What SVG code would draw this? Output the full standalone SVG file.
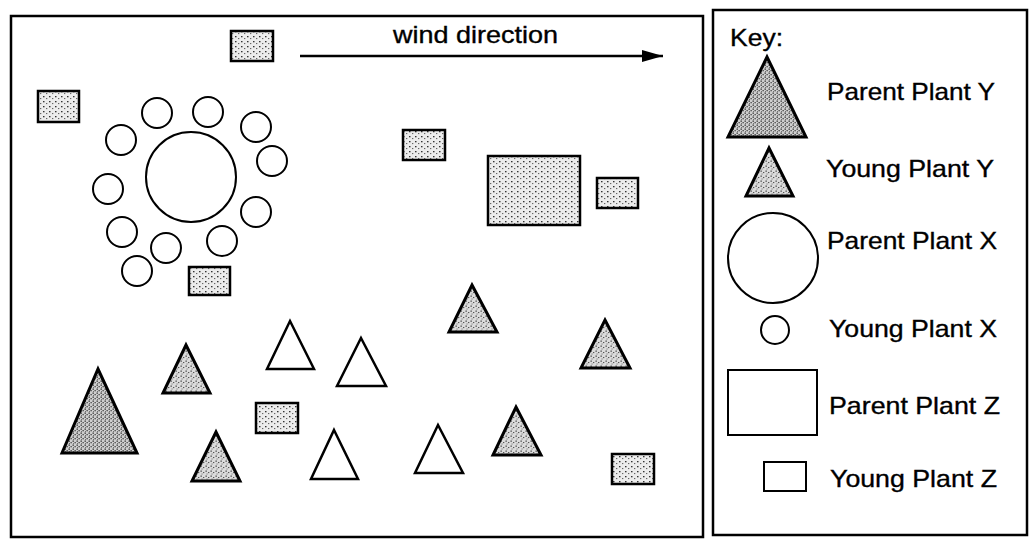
<svg xmlns="http://www.w3.org/2000/svg" width="1032" height="544" viewBox="0 0 1032 544">
<defs>
<pattern id="dots" width="6" height="5" patternUnits="userSpaceOnUse">
<rect width="6" height="5" fill="#ececec"/>
<rect x="1" y="1" width="1.5" height="1.3" fill="#333"/>
<rect x="4" y="3" width="1.3" height="1.1" fill="#666"/>
</pattern>
<pattern id="speck" width="5" height="5" patternUnits="userSpaceOnUse">
<rect width="5" height="5" fill="#dcdcdc"/>
<rect x="0.5" y="0.5" width="1.3" height="1.3" fill="#444"/>
<rect x="3" y="2" width="1.3" height="1.1" fill="#555"/>
<rect x="1.5" y="3.5" width="1.1" height="1" fill="#777"/>
</pattern>
<pattern id="speckd" width="4" height="4" patternUnits="userSpaceOnUse">
<rect width="4" height="4" fill="#cfcfcf"/>
<rect x="0.5" y="0.5" width="1.4" height="1.3" fill="#333"/>
<rect x="2.5" y="2" width="1.3" height="1.3" fill="#444"/>
<rect x="1" y="3" width="1" height="0.9" fill="#666"/>
</pattern>
<marker id="arrow" markerWidth="22" markerHeight="14" refX="21" refY="7" orient="auto" markerUnits="userSpaceOnUse">
<path d="M0,1 L21,7 L0,13 Z" fill="#000"/>
</marker>
</defs>
<style>
.frame{fill:none;stroke:#000;stroke-width:2.5}
.yz{fill:url(#dots);stroke:#000;stroke-width:2.5}
.pz{fill:url(#dots);stroke:#000;stroke-width:2.5}
.yy{fill:url(#speck);stroke:#000;stroke-width:3;stroke-linejoin:miter}
.py{fill:url(#speckd);stroke:#000;stroke-width:3;stroke-linejoin:miter}
.open{fill:#fff;stroke:#000;stroke-width:2.5;stroke-linejoin:miter}
.circ{fill:#fff;stroke:#000;stroke-width:2}
.kbox{fill:#fff;stroke:#000;stroke-width:2}
.lbl{font-family:"Liberation Sans",Arial,sans-serif;font-size:24px;fill:#000;stroke:#000;stroke-width:0.35}
</style>
<rect width="1032" height="544" fill="#fff"/>
<g id="field-frame"><rect class="frame" x="11" y="16" width="692" height="521"/></g>
<g id="key-frame"><rect class="frame" x="713" y="10" width="314" height="525"/></g>

<g id="connectors">
<line x1="300" y1="56" x2="663" y2="56" stroke="#000" stroke-width="2.5" marker-end="url(#arrow)"/>
</g>
<g id="wind-label"><text class="lbl" x="393" y="43" textLength="165" lengthAdjust="spacingAndGlyphs">wind direction</text></g>

<g id="parent-x"><circle class="circ" cx="191" cy="177" r="45"/></g>
<g id="young-x">
<circle class="circ" cx="157" cy="113" r="15"/>
<circle class="circ" cx="208" cy="112" r="15"/>
<circle class="circ" cx="256" cy="127" r="15"/>
<circle class="circ" cx="272" cy="161" r="15"/>
<circle class="circ" cx="256" cy="212" r="15"/>
<circle class="circ" cx="222" cy="241" r="15"/>
<circle class="circ" cx="166" cy="248" r="15"/>
<circle class="circ" cx="137" cy="271" r="15"/>
<circle class="circ" cx="122" cy="232" r="15"/>
<circle class="circ" cx="108" cy="189" r="15"/>
<circle class="circ" cx="121" cy="140" r="15"/>
</g>

<g id="parent-z"><rect class="pz" x="488" y="156" width="92" height="69"/></g>
<g id="young-z">
<rect class="yz" x="231" y="31" width="42" height="30"/>
<rect class="yz" x="38" y="91" width="41" height="31"/>
<rect class="yz" x="189" y="267" width="41" height="28"/>
<rect class="yz" x="403" y="130" width="42" height="30"/>
<rect class="yz" x="597" y="178" width="41" height="30"/>
<rect class="yz" x="256" y="403" width="42" height="30"/>
<rect class="yz" x="612" y="454" width="42" height="30"/>
</g>

<g id="parent-y"><polygon class="py" points="98,369 137,453 62,453"/></g>
<g id="young-y">
<polygon class="yy" points="186,345 210,393 163,393"/>
<polygon class="yy" points="216,432 240,481 192,481"/>
<polygon class="yy" points="472,285 497,332 449,332"/>
<polygon class="yy" points="605,320 630,368 581,368"/>
<polygon class="yy" points="516,407 541,455 493,455"/>
</g>
<g id="open-triangles">
<polygon class="open" points="290,321 314,369 267,369"/>
<polygon class="open" points="361,338 386,386 337,386"/>
<polygon class="open" points="334,430 358,479 311,479"/>
<polygon class="open" points="438,425 463,473 415,473"/>
</g>

<g id="key">
<text class="lbl" x="730" y="46" textLength="53" lengthAdjust="spacingAndGlyphs">Key:</text>
<g id="key-parent-y">
<polygon class="py" points="767,57 806,137 728,137"/>
<text class="lbl" x="827" y="100" textLength="168" lengthAdjust="spacingAndGlyphs">Parent Plant Y</text>
</g>
<g id="key-young-y">
<polygon class="yy" points="769,148 793,196 746,196"/>
<text class="lbl" x="826" y="177" textLength="168" lengthAdjust="spacingAndGlyphs">Young Plant Y</text>
</g>
<g id="key-parent-x">
<circle class="circ" cx="773" cy="258" r="45"/>
<text class="lbl" x="827" y="249" textLength="170" lengthAdjust="spacingAndGlyphs">Parent Plant X</text>
</g>
<g id="key-young-x">
<circle class="circ" cx="775" cy="330" r="14"/>
<text class="lbl" x="829" y="337" textLength="168" lengthAdjust="spacingAndGlyphs">Young Plant X</text>
</g>
<g id="key-parent-z">
<rect class="kbox" x="728" y="370" width="89" height="65"/>
<text class="lbl" x="829" y="414" textLength="171" lengthAdjust="spacingAndGlyphs">Parent Plant Z</text>
</g>
<g id="key-young-z">
<rect class="kbox" x="764" y="462" width="42" height="29"/>
<text class="lbl" x="830" y="487" textLength="167" lengthAdjust="spacingAndGlyphs">Young Plant Z</text>
</g>
</g>
</svg>
